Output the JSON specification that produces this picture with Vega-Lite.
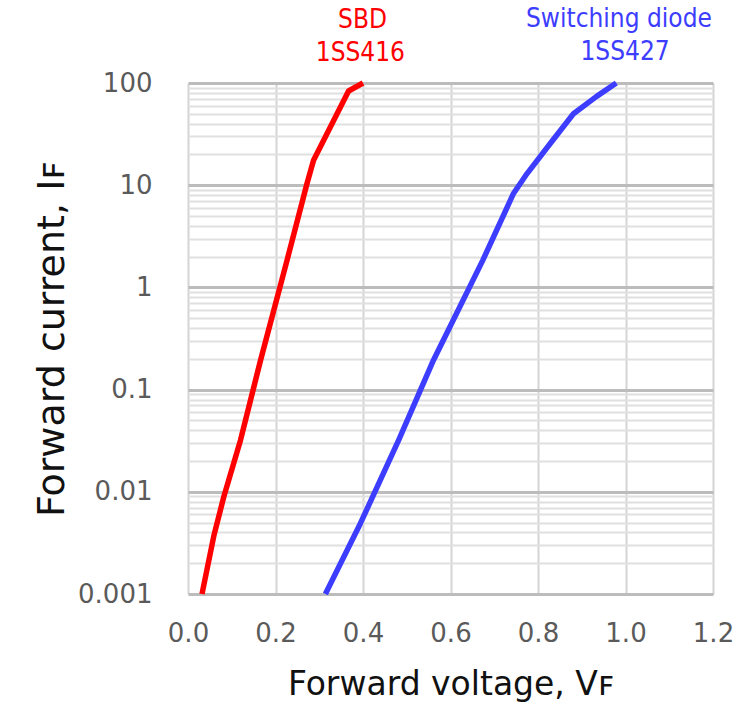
{
  "$schema": "https://vega.github.io/schema/vega-lite/v6.json",
  "width": 525,
  "height": 511,
  "autosize": {"type": "none"},
  "padding": {"left": 188, "top": 83, "right": 29, "bottom": 127},
  "background": "white",
  "config": {"view": {"stroke": null}, "font": "DejaVu Sans"},
  "datasets": {
    "curves": [
      {"series": "SBD 1SS416", "V": 0.032, "I": 0.001},
      {"series": "SBD 1SS416", "V": 0.059, "I": 0.0037},
      {"series": "SBD 1SS416", "V": 0.082, "I": 0.009},
      {"series": "SBD 1SS416", "V": 0.12, "I": 0.032},
      {"series": "SBD 1SS416", "V": 0.166, "I": 0.195},
      {"series": "SBD 1SS416", "V": 0.2265, "I": 1.85},
      {"series": "SBD 1SS416", "V": 0.272, "I": 10.4},
      {"series": "SBD 1SS416", "V": 0.287, "I": 17.5},
      {"series": "SBD 1SS416", "V": 0.367, "I": 83.5},
      {"series": "SBD 1SS416", "V": 0.4, "I": 100},
      {"series": "Switching diode 1SS427", "V": 0.314, "I": 0.001},
      {"series": "Switching diode 1SS427", "V": 0.394, "I": 0.0049},
      {"series": "Switching diode 1SS427", "V": 0.4815, "I": 0.032},
      {"series": "Switching diode 1SS427", "V": 0.5613, "I": 0.195},
      {"series": "Switching diode 1SS427", "V": 0.674, "I": 1.85},
      {"series": "Switching diode 1SS427", "V": 0.744, "I": 8.3},
      {"series": "Switching diode 1SS427", "V": 0.775, "I": 13},
      {"series": "Switching diode 1SS427", "V": 0.828, "I": 25.6},
      {"series": "Switching diode 1SS427", "V": 0.881, "I": 50},
      {"series": "Switching diode 1SS427", "V": 0.934, "I": 74},
      {"series": "Switching diode 1SS427", "V": 0.979, "I": 100}
    ],
    "labels": [
      {"series": "SBD 1SS416", "V": 0.399, "I": 410, "text": "SBD"},
      {"series": "SBD 1SS416", "V": 0.394, "I": 196, "text": "1SS416"},
      {"series": "Switching diode 1SS427", "V": 0.985, "I": 420, "text": "Switching diode"},
      {"series": "Switching diode 1SS427", "V": 0.999, "I": 203, "text": "1SS427"}
    ]
  },
  "layer": [
    {
      "data": {"name": "curves"},
      "mark": {"type": "line", "strokeWidth": 5.5, "strokeJoin": "round", "strokeCap": "butt"},
      "encoding": {
        "x": {
          "field": "V", "type": "quantitative",
          "scale": {"domain": [0, 1.2], "nice": false, "zero": false},
          "axis": {
            "values": [0, 0.2, 0.4, 0.6, 0.8, 1.0, 1.2],
            "format": ".1f",
            "domain": false, "ticks": false, "labelFlush": false,
            "grid": true, "gridColor": "#d4d4d4", "gridWidth": 2,
            "labelFont": "DejaVu Sans", "labelFontSize": 26, "labelColor": "#5a5a5a",
            "labelPadding": 26,
            "title": "Forward voltage, Vꜰ",
            "titleFont": "DejaVu Sans", "titleFontSize": 33, "titleFontWeight": "normal",
            "titleColor": "#111111", "titlePadding": 22
          }
        },
        "y": {
          "field": "I", "type": "quantitative",
          "scale": {"type": "log", "domain": [0.001, 100], "nice": false},
          "axis": {
            "values": [0.001, 0.002, 0.003, 0.004, 0.005, 0.006, 0.007, 0.008, 0.009,
                       0.01, 0.02, 0.03, 0.04, 0.05, 0.06, 0.07, 0.08, 0.09,
                       0.1, 0.2, 0.3, 0.4, 0.5, 0.6, 0.7, 0.8, 0.9,
                       1, 2, 3, 4, 5, 6, 7, 8, 9,
                       10, 20, 30, 40, 50, 60, 70, 80, 90, 100],
            "labelExpr": "indexof([0.001, 0.01, 0.1, 1, 10, 100], datum.value) >= 0 ? toString(datum.value) : ''",
            "domain": false, "ticks": false, "labelFlush": false,
            "grid": true,
            "gridColor": {"condition": {"test": "indexof([0.001, 0.01, 0.1, 1, 10, 100], datum.value) >= 0", "value": "#bcbcbc"}, "value": "#e0e0e0"},
            "gridWidth": {"condition": {"test": "indexof([0.001, 0.01, 0.1, 1, 10, 100], datum.value) >= 0", "value": 3}, "value": 2},
            "labelFont": "DejaVu Sans", "labelFontSize": 26, "labelColor": "#5a5a5a",
            "labelPadding": 36, "labelOverlap": false,
            "title": "Forward current, Iꜰ",
            "titleFont": "DejaVu Sans", "titleFontSize": 38, "titleFontWeight": "normal",
            "titleColor": "#111111", "titlePadding": 6
          }
        },
        "color": {
          "field": "series", "type": "nominal",
          "scale": {"domain": ["SBD 1SS416", "Switching diode 1SS427"], "range": ["#ff0000", "#3d3dff"]},
          "legend": null
        }
      }
    },
    {
      "data": {"name": "labels"},
      "mark": {"type": "text", "font": "DejaVu Sans Condensed, DejaVu Sans", "fontSize": 26, "align": "center", "baseline": "middle"},
      "encoding": {
        "x": {"field": "V", "type": "quantitative"},
        "y": {"field": "I", "type": "quantitative"},
        "text": {"field": "text"},
        "color": {"field": "series", "type": "nominal", "legend": null}
      }
    }
  ]
}
